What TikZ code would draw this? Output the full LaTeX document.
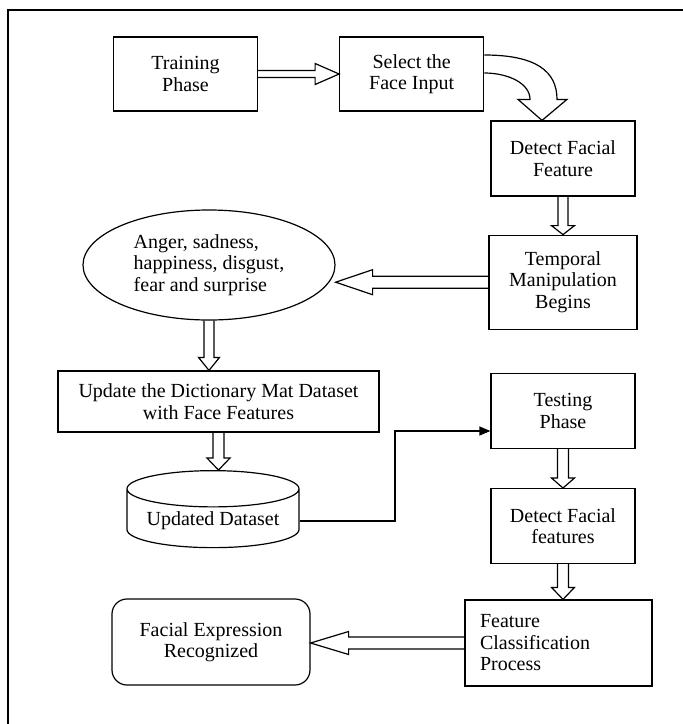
\documentclass[tikz,border=0pt]{standalone}
\usepackage{fontspec}
\setmainfont{Liberation Serif}
\usetikzlibrary{positioning, shapes.geometric, calc, arrows.meta}
\tikzset{
x=1pt, y=1pt, % one unit is one pixel of the layout
every node/.style={font=\fontsize{20}{21.5}\selectfont}, % Times-like text everywhere
box/.style={draw, line width=1.2pt, align=center, inner sep=2pt, minimum width=144pt, minimum height=75pt}, % plain step box
hollow/.style={draw, line width=1.2pt, line join=miter}, % outline of the block arrows
shaftw/.store in=\sw, shaftw=5.5pt, % half width of a block arrow shaft
headw/.store in=\hw, headw=11.5pt, % half width of a block arrow head
headl/.store in=\hl, headl=12pt, % length of a block arrow head
link/.style={line width=1.2pt, -{Triangle[length=11pt, width=9pt]}}, % thin connector
frame/.style={line width=2pt}, % page frame
}
% block arrows between two named nodes
\newcommand{\hollowdown}[3][]{%
  \path[hollow, #1] let \p1=(#2.south), \p2=(#3.north) in
    (\x1-\sw,\y1) -- (\x1-\sw,\y2+\hl) -- (\x1-\hw,\y2+\hl) -- (\x1,\y2)
    -- (\x1+\hw,\y2+\hl) -- (\x1+\sw,\y2+\hl) -- (\x1+\sw,\y1);}
\newcommand{\hollowright}[3][]{%
  \path[hollow, #1] let \p1=(#2.east), \p2=(#3.west) in
    (\x1,\y1+\sw) -- (\x2-\hl,\y1+\sw) -- (\x2-\hl,\y1+\hw) -- (\x2,\y1)
    -- (\x2-\hl,\y1-\hw) -- (\x2-\hl,\y1-\sw) -- (\x1,\y1-\sw);}
\newcommand{\hollowleft}[3][]{%
  \path[hollow, #1] let \p1=(#2.west), \p2=(#3.east) in
    (\x1,\y1+\sw) -- (\x2+\hl,\y1+\sw) -- (\x2+\hl,\y1+\hw) -- (\x2,\y1)
    -- (\x2+\hl,\y1-\hw) -- (\x2+\hl,\y1-\sw) -- (\x1,\y1-\sw);}

\begin{document}
\begin{tikzpicture}
    \useasboundingbox (0,0) rectangle (683,-724);
    \begin{scope}
      \clip (0,0) rectangle (683,-724);
      \draw[frame] (8,-740) |- (700,-10);
    \end{scope}

    \node[box, minimum height=74pt] (train) at (185.5,-74) {Training\\Phase};
    \node[box, minimum height=74pt, right=81pt of train] (select) {Select the\\Face Input};
    \node[box] (detectA) at (563,-158.5) {Detect Facial\\Feature};
    \node[box, minimum width=148pt, minimum height=94pt, below=38pt of detectA] (temporal) {Temporal\\Manipulation\\Begins};
    \node[ellipse, draw, line width=1.2pt, align=left, inner sep=0pt, minimum width=252pt, minimum height=110pt] (emotions) at (209,-265) {Anger, sadness,\\happiness, disgust,\\fear and surprise};
    \node[box, minimum width=321pt, minimum height=61pt] (update) at (218.5,-401.5) {Update the Dictionary Mat Dataset\\with Face Features};
    \node[box, below=43pt of temporal] (testing) {Testing\\Phase};
    \node[box, below=39pt of testing] (detectB) {Detect Facial\\features};
    \node[cylinder, draw, line width=1.2pt, shape border rotate=90, aspect=0.26, minimum width=172pt, minimum height=77pt] (dataset) at (213,-521) {Updated Dataset};
    \node[box, align=left, text width=157pt, inner xsep=15pt, minimum height=86pt] (classify) at (558.5,-643) {Feature\\Classification\\Process};
    \node[box, rounded corners=15pt, minimum width=198pt, minimum height=86pt] (result) at (211,-642) {Facial Expression\\Recognized};

    \hollowright[yshift=-3.5, shaftw=3.5pt, headw=10.5pt, headl=24pt]{train}{select}
    \path[hollow] ([yshift=19]select.east) .. controls +(52,0) and +(0,28) .. ([shift={(-6,21)}]detectA.north)
      -- ([shift={(4,21)}]detectA.north) -- ([xshift=-21]detectA.north) -- ([shift={(-45,21)}]detectA.north)
      -- ([shift={(-33,21)}]detectA.north) .. controls +(0,16) and +(24,0) .. ([yshift=1]select.east);
    \hollowdown[shaftw=5pt, headl=9pt]{detectA}{temporal}
    \hollowleft[yshift=15, shaftw=6pt, headw=12.5pt, headl=37pt]{temporal}{emotions}
    \hollowdown[xshift=6, shaftw=5pt, headw=10.5pt, headl=13pt]{emotions}{update}
    \hollowdown[xshift=-2.5]{update}{dataset}
    \hollowdown[xshift=-8, headl=10pt]{testing}{detectB}
    \hollowdown[xshift=-8]{detectB}{classify}
    \hollowleft[yshift=4, shaftw=6pt, headl=38pt]{classify}{result}

    \coordinate (joint) at (395,-431);
    \draw[link] (dataset.east) -| (joint) -- (joint -| testing.west);
\end{tikzpicture}
\end{document}
